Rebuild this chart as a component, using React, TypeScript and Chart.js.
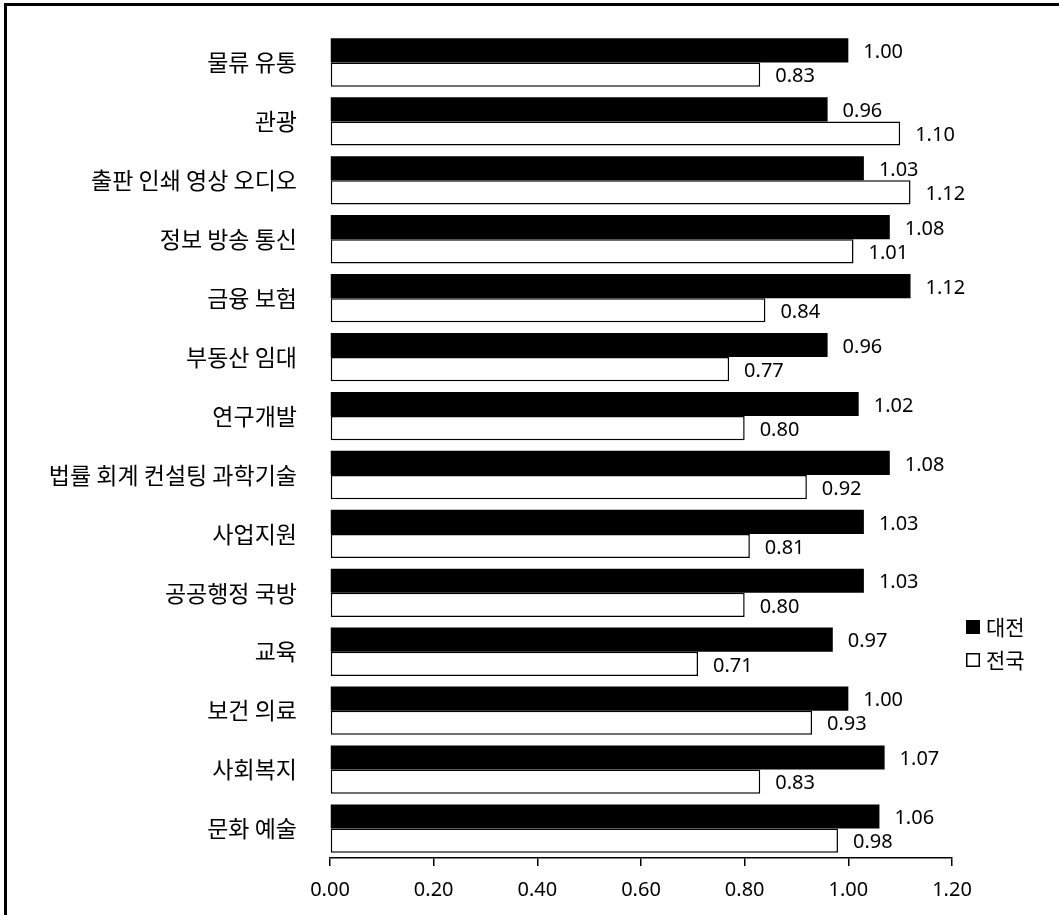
import React, { useEffect, useRef } from "react";
import { Chart, registerables } from "chart.js";

Chart.register(...registerables);

const categories = [
  "물류 유통",
  "관광",
  "출판 인쇄 영상 오디오",
  "정보 방송 통신",
  "금융 보험",
  "부동산 임대",
  "연구개발",
  "법률 회계 컨설팅 과학기술",
  "사업지원",
  "공공행정 국방",
  "교육",
  "보건 의료",
  "사회복지",
  "문화 예술",
];

const seriesNames = ["대전", "전국"];

const daejeon = [1.0, 0.96, 1.03, 1.08, 1.12, 0.96, 1.02, 1.08, 1.03, 1.03, 0.97, 1.0, 1.07, 1.06];
const national = [0.83, 1.1, 1.12, 1.01, 0.84, 0.77, 0.8, 0.92, 0.81, 0.8, 0.71, 0.93, 0.83, 0.98];

const xTicks = [0, 0.2, 0.4, 0.6, 0.8, 1.0, 1.2];

const FONT = "'Noto Sans', 'Noto Sans CJK KR', sans-serif";
const KFONT = "'Noto Sans CJK KR', 'Noto Sans', sans-serif";

const valueLabels = {
  id: "valueLabels",
  afterDatasetsDraw(chart: any) {
    const ctx = chart.ctx;
    ctx.save();
    ctx.fillStyle = "#000";
    ctx.font = `20px ${FONT}`;
    ctx.textAlign = "left";
    ctx.textBaseline = "middle";
    chart.data.datasets.forEach((ds: any, di: number) => {
      const meta = chart.getDatasetMeta(di);
      meta.data.forEach((el: any, i: number) => {
        const v = ds.data[i] as number;
        ctx.fillText(v.toFixed(2), el.x + 15, el.y + 2);
      });
    });
    ctx.restore();
  },
};

const customLegend = {
  id: "customLegend",
  afterDraw(chart: any) {
    const ctx = chart.ctx;
    const area = chart.chartArea;
    ctx.save();
    ctx.font = `21px ${KFONT}`;
    ctx.textAlign = "left";
    ctx.textBaseline = "middle";
    const x0 = area.right + 14;
    const ys = [627, 660];
    chart.data.datasets.forEach((ds: any, di: number) => {
      const y = ys[di];
      ctx.fillStyle = ds.backgroundColor;
      ctx.fillRect(x0, y - 7, 14, 14);
      ctx.strokeStyle = "#000";
      ctx.lineWidth = 1.5;
      ctx.strokeRect(x0 + 0.75, y - 6.25, 12.5, 12.5);
      ctx.fillStyle = "#000";
      ctx.fillText(ds.label, x0 + 20, y);
    });
    ctx.restore();
  },
};

export default function App() {
  const ref = useRef<HTMLCanvasElement | null>(null);

  useEffect(() => {
    document.body.style.margin = "0";
    const canvas = ref.current;
    if (!canvas) return;
    const chart = new Chart(canvas, {
      type: "bar",
      data: {
        labels: categories,
        datasets: [
          {
            label: seriesNames[0],
            data: daejeon,
            backgroundColor: "#000000",
            borderColor: "#000000",
            borderWidth: 0,
            categoryPercentage: 0.82,
            barPercentage: 1.0,
          },
          {
            label: seriesNames[1],
            data: national,
            backgroundColor: "#ffffff",
            borderColor: "#000000",
            borderWidth: 1.5,
            borderSkipped: false,
            categoryPercentage: 0.82,
            barPercentage: 1.0,
          },
        ],
      },
      options: {
        indexAxis: "y",
        animation: false,
        responsive: false,
        maintainAspectRatio: false,
        devicePixelRatio: 1,
        layout: { padding: { left: 0, right: 107, top: 33, bottom: 0 } },
        plugins: {
          legend: { display: false },
          tooltip: { enabled: false },
        },
        scales: {
          x: {
            type: "linear",
            min: 0,
            max: 1.2,
            afterBuildTicks: (scale: any) => {
              scale.ticks = xTicks.map((v) => ({ value: v }));
            },
            afterFit: (scale: any) => {
              scale.height = 57;
            },
            grid: {
              display: true,
              drawOnChartArea: false,
              drawTicks: true,
              tickLength: 8,
              color: "#000",
              lineWidth: 1.5,
            },
            border: { display: true, color: "#000", width: 1.5 },
            ticks: {
              color: "#000",
              font: { family: FONT, size: 20 },
              padding: 12,
              maxRotation: 0,
              callback: (v: any) => Number(v).toFixed(2),
            },
          },
          y: {
            afterFit: (scale: any) => {
              scale.width = 330;
              scale.paddingTop = 0;
              scale.paddingBottom = 0;
            },
            grid: { display: false },
            border: { display: false },
            ticks: {
              color: "#000",
              font: { family: KFONT, size: 23 },
              padding: 25,
            },
          },
        },
      },
      plugins: [valueLabels, customLegend],
    });
    return () => chart.destroy();
  }, []);

  return (
    <div style={{ position: "relative", width: 1059, height: 915, overflow: "hidden", background: "#fff" }}>
      <canvas ref={ref} width={1059} height={915} style={{ position: "absolute", left: 0, top: 0 }} />
      <div
        style={{
          position: "absolute",
          left: 4,
          top: 3,
          width: 1100,
          height: 1000,
          borderTop: "3px solid #000",
          borderLeft: "3px solid #000",
          pointerEvents: "none",
        }}
      />
    </div>
  );
}
